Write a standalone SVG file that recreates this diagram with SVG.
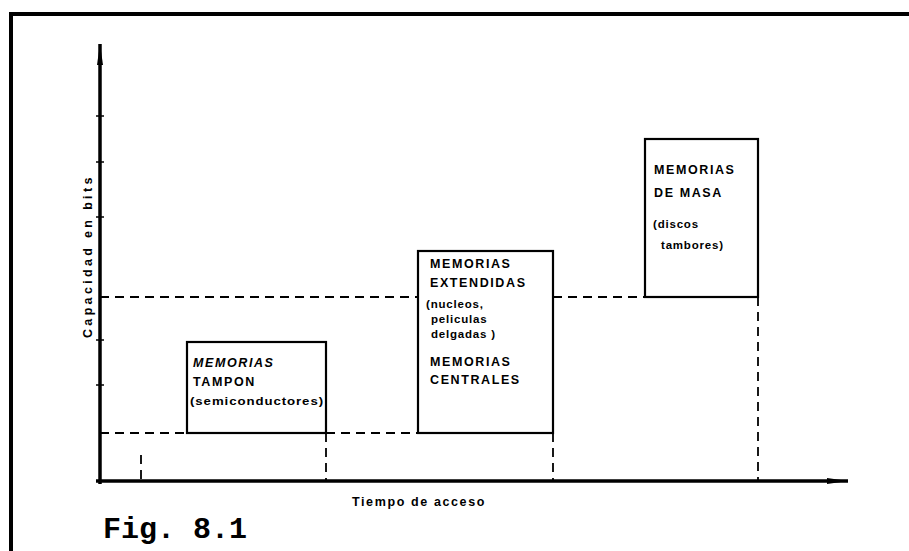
<svg xmlns="http://www.w3.org/2000/svg" width="909" height="551" viewBox="0 0 909 551">
<defs>
<style>
.frame{stroke:#000;stroke-width:4;fill:none}
.axis{stroke:#000;stroke-width:3.5;fill:none}
.box{stroke:#000;stroke-width:2.2;fill:#fff}
.dash{stroke:#000;stroke-width:1.8;stroke-dasharray:9 6;fill:none}
.tick{stroke:#000;stroke-width:1.5}
.t{font-family:"Liberation Sans",Arial,sans-serif;font-weight:bold;font-size:12.5px;letter-spacing:1.6px;fill:#000}
.s{font-family:"Liberation Sans",Arial,sans-serif;font-weight:bold;font-size:11.5px;letter-spacing:0.8px;fill:#000}
.fig{font-family:"Liberation Mono","Courier New",monospace;font-weight:bold;font-size:30px;fill:#000}
</style>
<marker id="ahv" markerWidth="22" markerHeight="9" refX="21" refY="4.5" orient="auto" markerUnits="userSpaceOnUse">
<path d="M0,1.5 L21,4.5 L0,7.5 Z" fill="#000"/>
</marker>
</defs>
<g id="frame">
<line class="frame" x1="11" y1="12" x2="11" y2="551"/>
<line class="frame" x1="11" y1="14" x2="909" y2="14"/>
</g>
<g id="connectors">
<line class="axis" x1="100" y1="484" x2="100" y2="44" marker-end="url(#ahv)"/>
<line class="axis" x1="96" y1="481" x2="848" y2="481" marker-end="url(#ahv)"/>
<line class="tick" x1="96" y1="116" x2="104" y2="116"/>
<line class="tick" x1="96" y1="162" x2="104" y2="162"/>
<line class="tick" x1="96" y1="217" x2="104" y2="217"/>
<line class="tick" x1="96" y1="340" x2="104" y2="340"/>
<line class="tick" x1="96" y1="385" x2="104" y2="385"/>
<line class="dash" x1="100" y1="433" x2="187" y2="433"/>
<line class="dash" x1="326" y1="433" x2="418" y2="433"/>
<line class="dash" x1="100" y1="297" x2="418" y2="297"/>
<line class="dash" x1="553" y1="297" x2="645" y2="297"/>
<line class="dash" x1="141" y1="455" x2="141" y2="481"/>
<line class="dash" x1="326" y1="433" x2="326" y2="481"/>
<line class="dash" x1="553" y1="433" x2="553" y2="481"/>
<line class="dash" x1="758" y1="297" x2="758" y2="481"/>
</g>
<g id="tampon">
<rect class="box" x="187" y="342" width="139" height="91"/>
<text class="t" x="193" y="367" font-style="italic">MEMORIAS</text>
<text class="t" x="193" y="386">TAMPON</text>
<text class="s" x="190" y="405" letter-spacing="0" textLength="134" lengthAdjust="spacingAndGlyphs">(semiconductores)</text>
</g>
<g id="extendidas">
<rect class="box" x="418" y="251" width="135" height="182"/>
<text class="t" x="430" y="268">MEMORIAS</text>
<text class="t" x="430" y="287">EXTENDIDAS</text>
<text class="s" x="426" y="308">(nucleos,</text>
<text class="s" x="431" y="323">peliculas</text>
<text class="s" x="431" y="338">delgadas )</text>
<text class="t" x="430" y="366">MEMORIAS</text>
<text class="t" x="430" y="384">CENTRALES</text>
</g>
<g id="masa">
<rect class="box" x="645" y="139" width="113" height="158"/>
<text class="t" x="654" y="174">MEMORIAS</text>
<text class="t" x="654" y="197">DE MASA</text>
<text class="s" x="653" y="228">(discos</text>
<text class="s" x="661" y="249">tambores)</text>
</g>
<g id="labels">
<text class="t" font-size="12px" letter-spacing="1.2px" transform="translate(92,338) rotate(-90)" textLength="162" lengthAdjust="spacing">Capacidad  en  bits</text>
<text class="t" x="352" y="506" font-size="12px" letter-spacing="0.5px" textLength="134" lengthAdjust="spacing">Tiempo de acceso</text>
<text class="fig" x="103" y="538">Fig. 8.1</text>
</g>
</svg>
